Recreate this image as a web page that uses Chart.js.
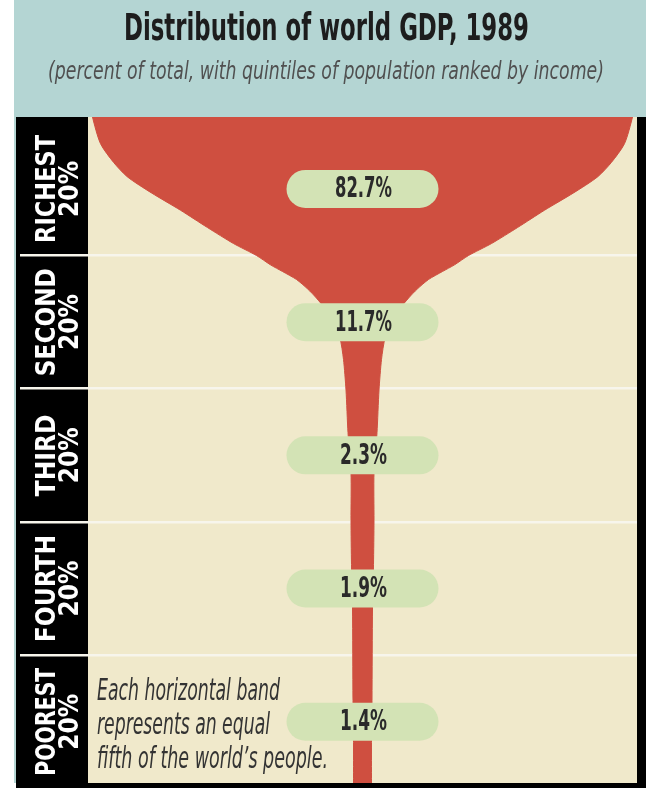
<!DOCTYPE html>
<html>
<head>
<meta charset="utf-8">
<title>Distribution of world GDP, 1989</title>
<script src="https://cdn.jsdelivr.net/npm/chart.js@4.4.0/dist/chart.umd.min.js"></script>
<style>
  html, body { margin: 0; padding: 0; background: #ffffff; }
  #wrap { width: 646px; height: 788px; }
</style>
</head>
<body>
<div id="wrap"><canvas id="gdp-chart" width="646" height="788"></canvas></div>
<script>
// Quintiles of world population, richest first
const quintiles = ["RICHEST", "SECOND", "THIRD", "FOURTH", "POOREST"];
// Share of world GDP (%) for each quintile
const gdpShare = [82.7, 11.7, 2.3, 1.9, 1.4];
// Band separators (in band units)
const bandEdges = [1, 2, 3, 4];

// Outline of the "champagne glass": depth in bands (0 = top) and half width
const glassDepth = [-0.15, -0.04, 0.16, 0.30, 0.41, 0.53, 0.66, 0.79, 0.91, 1.00, 1.07, 1.12, 1.18, 1.25, 1.32, 1.47, 1.62, 1.78, 2.01, 2.33, 2.63, 2.99, 3.32, 3.64, 4.34, 4.62, 4.96, 5.15];
const glassHalfWidth = [272, 270, 262, 249, 235, 211, 182, 155, 129, 106, 92, 80, 66, 55, 46, 30, 22.5, 19, 16.5, 14.5, 11.5, 11.5, 11, 10, 9.5, 9, 9, 9];

const TITLE = "Distribution of world GDP, 1989";
const SUBTITLE = "(percent of total, with quintiles of population ranked by income)";
const noteLines = ["Each horizontal band", "represents an equal", "fifth of the world\u2019s people."];

const COLORS = {
  header: "#b4d5d3",
  paper: "#f0e9cb",
  glass: "#cf4f40",
  pill: "#d3e3b5",
  rule: "#f7f5ec",
  ink: "#1d1d1d",
};
const NARROW = '"Liberation Sans Narrow", "DejaVu Sans Condensed", "Liberation Sans", sans-serif';

// Closed outline: down the left edge, back up the right edge
const glassOutline = glassDepth
  .map((d, i) => ({ x: -glassHalfWidth[i], y: d }))
  .concat(glassDepth.map((d, i) => ({ x: glassHalfWidth[i], y: d })).reverse());

// Backgrounds, labels, pills and notes
const glassDecor = {
  id: "glassDecor",
  beforeDraw(chart) {
    const ctx = chart.ctx;
    const a = chart.chartArea;
    const W = chart.width;
    const H = chart.height;
    ctx.save();
    ctx.fillStyle = "#ffffff";
    ctx.fillRect(0, 0, W, H);
    ctx.fillStyle = COLORS.header;
    ctx.fillRect(14, 0, W - 14, a.top);
    ctx.fillRect(14, a.top, 2, a.bottom - a.top);
    ctx.fillStyle = "#000000";
    ctx.fillRect(16, a.top, a.left - 16, a.bottom - a.top);
    ctx.fillRect(a.right, a.top, W - a.right, H - a.top);
    ctx.fillRect(16, a.bottom, W - 16, H - a.bottom);
    ctx.fillStyle = COLORS.paper;
    ctx.fillRect(a.left, a.top, a.right - a.left, a.bottom - a.top);
    ctx.restore();
  },
  afterDraw(chart) {
    const ctx = chart.ctx;
    const xs = chart.scales.x;
    const ys = chart.scales.y;
    const cx = xs.getPixelForValue(0);
    ctx.save();

    // Title and subtitle
    ctx.textAlign = "center";
    ctx.textBaseline = "alphabetic";
    ctx.fillStyle = COLORS.ink;
    ctx.font = "bold 37px " + NARROW;
    ctx.fillText(TITLE, 326.5, 40, 405);
    ctx.fillStyle = "#505050";
    ctx.font = "italic 24px " + NARROW;
    ctx.fillText(SUBTITLE, 326, 79, 556);

    quintiles.forEach((name, i) => {
      const y = ys.getPixelForValue(i + 0.5);

      // Value pill
      ctx.fillStyle = COLORS.pill;
      ctx.beginPath();
      ctx.roundRect(cx - 76, y - 19, 152, 38, 19);
      ctx.fill();
      ctx.fillStyle = "#2a2a2a";
      ctx.font = "bold 29px " + NARROW;
      ctx.textAlign = "center";
      ctx.textBaseline = "middle";
      ctx.fillText(gdpShare[i].toFixed(1) + "%", cx + 1, y + 1, gdpShare[i] >= 10 ? 57 : 47);

      // Rotated quintile label in the black strip
      ctx.save();
      ctx.translate(0, y);
      ctx.rotate(-Math.PI / 2);
      ctx.fillStyle = "#ffffff";
      ctx.textBaseline = "alphabetic";
      ctx.font = "bold 26px " + NARROW;
      ctx.fillText(name, 0, 55, 108);
      ctx.fillText("20%", 0, 78, 58);
      ctx.restore();
    });

    // Note in the poorest band
    const yNote = ys.getPixelForValue(4.5);
    ctx.fillStyle = "#333333";
    ctx.font = "italic 30px " + NARROW;
    ctx.textAlign = "left";
    ctx.textBaseline = "alphabetic";
    const noteWidths = [183, 173, 231];
    noteLines.forEach((line, k) => {
      ctx.fillText(line, 97, yNote - 22 + k * 34, noteWidths[k]);
    });
    ctx.restore();
  },
};

const gdpChart = new Chart(document.getElementById("gdp-chart").getContext("2d"), {
  type: "scatter",
  data: {
    datasets: [
      {
        label: "World GDP",
        data: glassOutline,
        showLine: true,
        fill: "shape",
        backgroundColor: COLORS.glass,
        borderColor: COLORS.glass,
        borderWidth: 1,
        pointRadius: 0,
        tension: 0.25,
      },
    ],
  },
  options: {
    responsive: false,
    animation: false,
    devicePixelRatio: 1,
    layout: { padding: { left: 16, right: 9, top: 117, bottom: 5 } },
    plugins: {
      legend: { display: false },
      tooltip: { enabled: false },
    },
    scales: {
      x: { type: "linear", min: -274.5, max: 274.5, display: false },
      y: {
        type: "linear",
        position: "left",
        reverse: true,
        min: -0.04,
        max: 4.96,
        z: 1,
        afterFit(scale) {
          scale.width = 72;
        },
        afterBuildTicks(scale) {
          scale.ticks = bandEdges.map((v) => ({ value: v }));
        },
        ticks: { display: false },
        border: { display: false },
        grid: {
          color: COLORS.rule,
          lineWidth: 2.5,
          drawTicks: true,
          tickLength: 68,
          tickWidth: 2.5,
          tickColor: COLORS.rule,
        },
      },
    },
  },
  plugins: [glassDecor],
});
</script>
</body>
</html>
